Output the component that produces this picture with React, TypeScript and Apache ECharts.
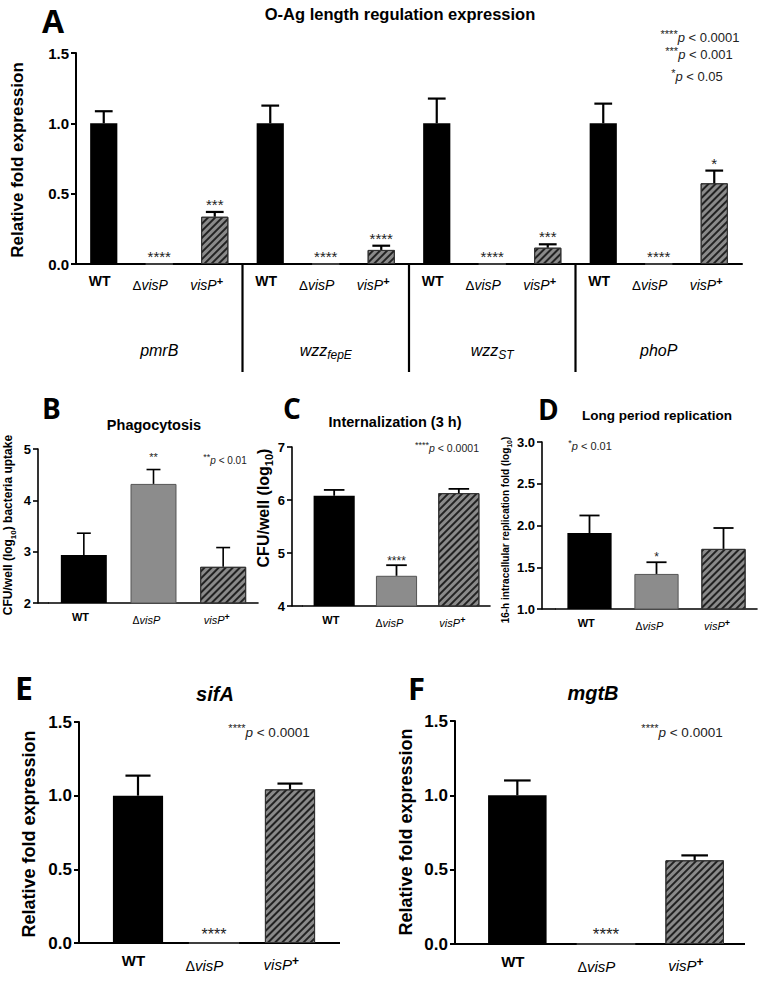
import React, { useEffect, useRef } from 'react';
import * as echarts from 'echarts';

const FONT = '"Liberation Sans", Arial, sans-serif';
const LETTER_FONT = '"Open Sans", "Liberation Sans", sans-serif';

// ---------- categories ----------
const strains = ['WT', 'ΔvisP', 'visP+'];
const genesA = ['pmrB', 'wzz_fepE', 'wzz_ST', 'phoP'];

// ---------- Panel A: O-Ag length regulation expression ----------
const pmrBMean = [1.0, 0, 0.336];
const pmrBSem = [0.086, 0, 0.034];
const pmrBStars = ['', '****', '***'];
const wzzFepEMean = [1.0, 0, 0.1];
const wzzFepESem = [0.126, 0, 0.03];
const wzzFepEStars = ['', '****', '****'];
const wzzSTMean = [1.0, 0, 0.116];
const wzzSTSem = [0.176, 0, 0.024];
const wzzSTStars = ['', '****', '***'];
const phoPMean = [1.0, 0, 0.574];
const phoPSem = [0.14, 0, 0.09];
const phoPStars = ['', '****', '*'];

// ---------- Panel B: Phagocytosis ----------
const phagoMean = [2.935, 4.32, 2.705];
const phagoSem = [0.425, 0.28, 0.375];
const phagoStars = ['', '**', ''];

// ---------- Panel C: Internalization (3 h) ----------
const internMean = [6.08, 4.57, 6.13];
const internSem = [0.11, 0.2, 0.08];
const internStars = ['', '****', ''];

// ---------- Panel D: Long period replication ----------
const replMean = [1.91, 1.42, 1.72];
const replSem = [0.21, 0.14, 0.25];
const replStars = ['', '*', ''];

// ---------- Panel E: sifA ----------
const sifAMean = [1.0, 0, 1.043];
const sifASem = [0.136, 0, 0.039];
const sifAStars = ['', '****', ''];

// ---------- Panel F: mgtB ----------
const mgtBMean = [1.0, 0, 0.563];
const mgtBSem = [0.1, 0, 0.033];
const mgtBStars = ['', '****', ''];

// ---------- layout ----------
type Panel = {
  axisX: number; left: number; right: number; top: number; bottom: number; axisEnd?: number;
  min: number; max: number; interval: number; decimals: number;
  cats: string[]; means: number[]; sems: number[]; stars: string[];
  barWidth: string; capFrac: number; errLw: number; axisLw: number;
  tickFont: number; labelFont: number; starFont: number; starGap: number;
};

const catsA = genesA.flatMap(() => strains);

const panels: Panel[] = [
  { axisX: 76, left: 76, right: 742, top: 53, bottom: 264, min: 0, max: 1.5, interval: 0.5, decimals: 1,
    cats: catsA, means: [...pmrBMean, ...wzzFepEMean, ...wzzSTMean, ...phoPMean],
    sems: [...pmrBSem, ...wzzFepESem, ...wzzSTSem, ...phoPSem],
    stars: [...pmrBStars, ...wzzFepEStars, ...wzzSTStars, ...phoPStars],
    barWidth: '49%', capFrac: 0.32, errLw: 2.2, axisLw: 2, tickFont: 15, labelFont: 14, starFont: 15, starGap: 0 },
  { axisX: 38, left: 49, right: 258, top: 449, bottom: 603, min: 2, max: 5, interval: 1, decimals: 0,
    cats: strains, means: phagoMean, sems: phagoSem, stars: phagoStars,
    barWidth: '66%', capFrac: 0.2, errLw: 1.6, axisLw: 1.6, tickFont: 13, labelFont: 11, starFont: 11, starGap: 7 },
  { axisX: 292, left: 303, right: 490, top: 447, bottom: 606, min: 4, max: 7, interval: 1, decimals: 0,
    cats: strains, means: internMean, sems: internSem, stars: internStars,
    barWidth: '66%', capFrac: 0.33, errLw: 1.8, axisLw: 1.6, tickFont: 13, labelFont: 11, starFont: 12, starGap: -2 },
  { axisX: 542, left: 556, right: 757, top: 442, bottom: 609, min: 1, max: 3, interval: 0.5, decimals: 1,
    cats: strains, means: replMean, sems: replSem, stars: replStars,
    barWidth: '66%', capFrac: 0.3, errLw: 1.8, axisLw: 1.6, tickFont: 13, labelFont: 11, starFont: 12, starGap: -1 },
  { axisX: 79, left: 100, right: 328, top: 722, bottom: 943, axisEnd: 340, min: 0, max: 1.5, interval: 0.5, decimals: 1,
    cats: strains, means: sifAMean, sems: sifASem, stars: sifAStars,
    barWidth: '66%', capFrac: 0.33, errLw: 2.2, axisLw: 2, tickFont: 17, labelFont: 15, starFont: 16, starGap: 1 },
  { axisX: 455, left: 473, right: 739, top: 721, bottom: 944, axisEnd: 745, min: 0, max: 1.5, interval: 0.5, decimals: 1,
    cats: strains, means: mgtBMean, sems: mgtBSem, stars: mgtBStars,
    barWidth: '66%', capFrac: 0.3, errLw: 2.2, axisLw: 2, tickFont: 17, labelFont: 15, starFont: 17, starGap: 1 },
];

const hatchStyle = {
  color: '#8a8a8a', borderColor: '#333', borderWidth: 1,
  decal: { symbol: 'rect', symbolSize: 1, dashArrayX: [1, 0], dashArrayY: [1.6, 2.4], rotation: -Math.PI / 4, color: '#222' },
};
const barStyles = [
  { color: '#000' },
  { color: '#8c8c8c', borderColor: '#555', borderWidth: 1 },
  hatchStyle,
];

const strainRich = (size: number) => ({
  b: { fontFamily: FONT, fontWeight: 'bold', fontStyle: 'normal', fontSize: size, fill: '#000', lineHeight: size + 4 },
  d: { fontFamily: FONT, fontWeight: 'normal', fontStyle: 'normal', fontSize: size * 0.95, fill: '#000', lineHeight: size + 4 },
  i: { fontFamily: FONT, fontWeight: 'normal', fontStyle: 'italic', fontSize: size, fill: '#000', lineHeight: size + 4 },
  s: { fontFamily: FONT, fontWeight: 'bold', fontStyle: 'normal', fontSize: Math.round(size * 0.8), fill: '#000', verticalAlign: 'top', lineHeight: Math.round(size * 0.8) },
});
const strainFmt = (v: string) =>
  v === 'WT' ? '{b|WT}' : v.startsWith('Δ') ? `{d|Δ}{i|${v.slice(1)}}` : `{i|${v.replace('+', '')}}{s|+}`;

// width of a strain label, measured with the browser's text metrics
let measureCtx: CanvasRenderingContext2D | null = null;
function strainWidth(v: string, size: number) {
  if (!measureCtx) measureCtx = document.createElement('canvas').getContext('2d');
  const m = (t: string, f: string) => { measureCtx!.font = f; return measureCtx!.measureText(t).width; };
  const fam = '"Liberation Sans", Arial, sans-serif';
  if (v === 'WT') return m('WT', `bold ${size}px ${fam}`);
  if (v.startsWith('Δ')) return m('Δ', `${size * 0.95}px ${fam}`) + m(v.slice(1), `italic ${size}px ${fam}`);
  return m(v.replace('+', ''), `italic ${size}px ${fam}`) + m('+', `bold ${Math.round(size * 0.8)}px ${fam}`);
}

function errorSeries(k: number, p: Panel) {
  return {
    type: 'custom', xAxisIndex: k, yAxisIndex: k, z: 5,
    data: p.means.map((v, i) => [i, v, v + p.sems[i]]),
    renderItem: (params: any, api: any) => {
      const i = params.dataIndex;
      const x = api.value(0), v = api.value(1), e = api.value(2);
      const pv = api.coord([x, v]);
      const pe = api.coord([x, e]);
      const bw = api.size([1, 0])[0];
      const cap = (bw * p.capFrac) / 2;
      const children: any[] = [];
      if (e > v) {
        children.push({ type: 'line', shape: { x1: pv[0], y1: pv[1], x2: pe[0], y2: pe[1] }, style: { stroke: '#000', lineWidth: p.errLw } });
        children.push({ type: 'line', shape: { x1: pe[0] - cap, y1: pe[1], x2: pe[0] + cap, y2: pe[1] }, style: { stroke: '#000', lineWidth: p.errLw } });
      }
      if (p.stars[i]) {
        children.push({
          type: 'text', x: pe[0], y: pe[1] - p.starGap,
          style: { text: p.stars[i], fontFamily: FONT, fontSize: p.starFont, fill: '#222', align: 'center', verticalAlign: 'bottom', textAlign: 'center', textVerticalAlign: 'bottom' },
        });
      }
      return { type: 'group', children };
    },
  };
}

const txt = (text: string, x: number, y: number, opts: any = {}) => ({
  type: 'text', x, y, rotation: opts.rotation || 0, z: 10,
  style: {
    text, fill: opts.fill || '#000',
    fontFamily: opts.fontFamily || FONT, fontSize: opts.fontSize || 12,
    fontWeight: opts.fontWeight || 'normal', fontStyle: opts.fontStyle || 'normal',
    align: opts.align || 'center', verticalAlign: 'middle',
    textAlign: opts.align || 'center', textVerticalAlign: 'middle',
    rich: opts.rich,
  },
});

const subRich = (size: number, weight: string, style = 'normal') => ({
  m: { fontFamily: FONT, fontSize: size, fontWeight: weight, fontStyle: style, lineHeight: size + 6, fill: '#000' },
  sub: { fontFamily: FONT, fontSize: Math.round(size * 0.68), fontWeight: weight, fontStyle: style, verticalAlign: 'bottom', lineHeight: Math.round(size * 0.68), fill: '#000' },
});

const pRich = (size: number) => ({
  st: { fontFamily: FONT, fontSize: Math.round(size * 0.85), verticalAlign: 'top', lineHeight: Math.round(size * 0.85), fill: '#222' },
  it: { fontFamily: FONT, fontSize: size, fontStyle: 'italic', lineHeight: size + 5, fill: '#222' },
  n: { fontFamily: FONT, fontSize: size, lineHeight: size + 5, fill: '#222' },
});
const pText = (stars: string, rest: string, x: number, y: number, size: number) =>
  txt(`{st|${stars}}{it|p}{n|${rest}}`, x, y, { rich: pRich(size), fill: '#222' });

function staticGraphics() {
  const A = panels[0];
  const bandA = (A.right - A.left) / A.cats.length;
  const graphics: any[] = [];

  const letters: [string, number, number, number][] = [
    ['A', 42, 20, 32], ['B', 42, 408, 28], ['C', 283, 408, 28], ['D', 538, 409, 28], ['E', 15, 687, 32], ['F', 408, 688, 31],
  ];
  letters.forEach(([l, x, y, s]) => graphics.push(txt(l, x, y, { fontFamily: LETTER_FONT, fontSize: s, fontWeight: 'bold', align: 'left' })));

  graphics.push(txt('O-Ag length regulation expression', 400, 14, { fontSize: 16.5, fontWeight: 'bold' }));
  graphics.push(txt('Phagocytosis', 154, 425, { fontSize: 14.5, fontWeight: 'bold' }));
  graphics.push(txt('Internalization (3 h)', 395, 422, { fontSize: 14.5, fontWeight: 'bold' }));
  graphics.push(txt('Long period replication', 657, 415, { fontSize: 13.5, fontWeight: 'bold' }));
  graphics.push(txt('sifA', 215, 694, { fontSize: 20, fontWeight: 'bold', fontStyle: 'italic' }));
  graphics.push(txt('mgtB', 593, 693, { fontSize: 20, fontWeight: 'bold', fontStyle: 'italic' }));

  const R = Math.PI / 2;
  graphics.push(txt('Relative fold expression', 17, 160, { fontSize: 17, fontWeight: 'bold', rotation: R }));
  graphics.push(txt('{m|CFU/well (log}{sub|10}{m|) bacteria uptake}', 8, 525, { rotation: R, rich: subRich(12, 'bold') }));
  graphics.push(txt('{m|CFU/well (log}{sub|10}{m|)}', 263, 508, { rotation: R, rich: subRich(16, 'bold') }));
  graphics.push(txt('{m|16-h intracellular replication fold (log}{sub|10}{m|)}', 505, 530, { rotation: R, rich: subRich(10, 'bold') }));
  graphics.push(txt('Relative fold expression', 29, 834, { fontSize: 18, fontWeight: 'bold', rotation: R }));
  graphics.push(txt('Relative fold expression', 406, 832, { fontSize: 18, fontWeight: 'bold', rotation: R }));

  graphics.push(pText('****', ' < 0.0001', 700, 37, 13));
  graphics.push(pText('***', ' < 0.001', 699, 54, 13));
  graphics.push(pText('*', ' < 0.05', 697, 76, 13));
  graphics.push(pText('**', ' < 0.01', 225, 460, 10));
  graphics.push(pText('****', ' < 0.0001', 447, 448, 10.5));
  graphics.push(pText('*', ' < 0.01', 590, 446, 11));
  graphics.push(pText('****', ' < 0.0001', 269, 732, 13.5));
  graphics.push(pText('****', ' < 0.0001', 682, 732, 13.5));

  const geneRich = {
    m: { fontFamily: FONT, fontSize: 16, fontStyle: 'italic', lineHeight: 22, fill: '#000' },
    sub: { fontFamily: FONT, fontSize: 12, fontStyle: 'italic', verticalAlign: 'bottom', lineHeight: 12, fill: '#000' },
  };
  genesA.forEach((g, gi) => {
    const cx = A.left + (gi * 3 + 1.5) * bandA;
    const [base, sub] = g.split('_');
    const t = sub ? `{m|${base}}{sub|${sub}}` : `{m|${base}}`;
    graphics.push(txt(t, cx, 350, { rich: geneRich }));
    if (gi > 0) {
      const sx = A.left + gi * 3 * bandA;
      graphics.push({ type: 'line', z: 10, shape: { x1: sx, y1: A.bottom, x2: sx, y2: 372 }, style: { stroke: '#000', lineWidth: 2.2 } });
    }
  });

  panels.forEach((p) => {
    if (p.left > p.axisX) graphics.push({ type: 'line', z: 10, shape: { x1: p.axisX, y1: p.bottom, x2: p.left, y2: p.bottom }, style: { stroke: '#000', lineWidth: p.axisLw } });
    if (p.axisEnd && p.axisEnd > p.right) graphics.push({ type: 'line', z: 10, shape: { x1: p.right, y1: p.bottom, x2: p.axisEnd, y2: p.bottom }, style: { stroke: '#000', lineWidth: p.axisLw } });
  });
  return graphics;
}

function buildOption() {
  const grid = panels.map((p) => ({ left: p.left, top: p.top, width: p.right - p.left, height: p.bottom - p.top, containLabel: false }));
  const xAxis = panels.map((p, k) => ({
    gridIndex: k, type: 'category', data: p.cats,
    axisLine: { onZero: false, lineStyle: { color: '#000', width: p.axisLw } },
    axisTick: { alignWithLabel: true, length: 5, lineStyle: { color: '#000', width: p.axisLw } },
    axisLabel: { show: false },
    splitLine: { show: false },
  }));
  const yAxis = panels.map((p, k) => ({
    gridIndex: k, type: 'value', min: p.min, max: p.max, interval: p.interval, offset: p.left - p.axisX,
    axisLine: { show: true, lineStyle: { color: '#000', width: p.axisLw } },
    axisTick: { show: true, length: 5, lineStyle: { color: '#000', width: p.axisLw } },
    splitLine: { show: false },
    axisLabel: { fontFamily: FONT, fontWeight: 'bold', fontSize: p.tickFont, color: '#000', margin: 7,
      formatter: (v: number) => v.toFixed(p.decimals) },
  }));
  const series: any[] = [];
  panels.forEach((p, k) => {
    series.push({
      type: 'bar', xAxisIndex: k, yAxisIndex: k, barWidth: p.barWidth, clip: true,
      data: p.means.map((v, i) => ({ value: v, itemStyle: barStyles[i % 3] })),
    });
    series.push(errorSeries(k, p));
  });

  return {
    animation: false,
    backgroundColor: '#fff',
    textStyle: { fontFamily: FONT },
    grid, xAxis, yAxis, series,
    graphic: { elements: staticGraphics() },
  };
}

// category labels, positioned through the chart's own category scale; each label is
// centred where the centre of a 45-degree label ending at its tick would be
function categoryLabels(chart: any) {
  const out: any[] = [];
  const c45 = Math.SQRT1_2;
  panels.forEach((p, k) => {
    const rich = strainRich(p.labelFont);
    p.cats.forEach((c, i) => {
      const pt = chart.convertToPixel({ xAxisIndex: k, yAxisIndex: k }, [i, p.min]);
      const ax = pt[0] + 0.25 * p.labelFont;
      const ay = pt[1] + 0.5 * p.labelFont + 2;
      const half = strainWidth(c, p.labelFont) / 2;
      out.push(txt(strainFmt(c), ax - half * c45, ay + half * c45, { rich, fontSize: p.labelFont }));
    });
  });
  return out;
}

export default function App() {
  const ref = useRef<HTMLDivElement>(null);
  useEffect(() => {
    if (!ref.current) return;
    const chart = echarts.init(ref.current, undefined, { renderer: 'svg' });
    chart.setOption(buildOption() as any);
    chart.setOption({ graphic: { elements: [...staticGraphics(), ...categoryLabels(chart)] } } as any);
    return () => chart.dispose();
  }, []);
  return <div ref={ref} style={{ position: 'absolute', left: 0, top: 0, width: 760, height: 996, background: '#fff' }} />;
}
